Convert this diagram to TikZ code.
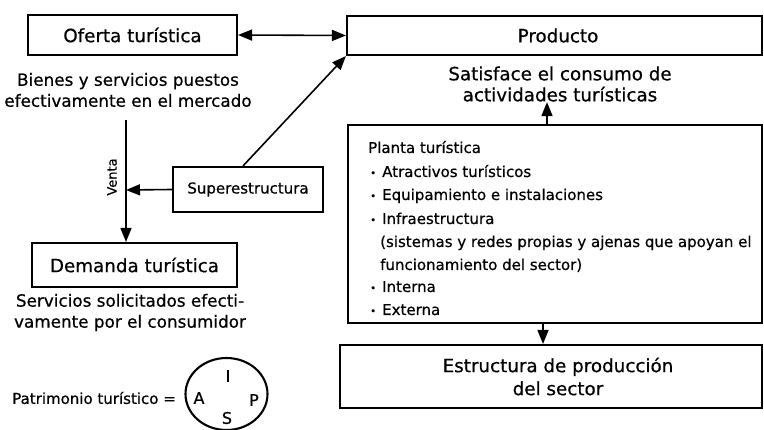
\documentclass[tikz,border=0pt]{standalone}
\usepackage{fontspec}
\setmainfont{DejaVu Sans}[FakeBold=0.6]
\usetikzlibrary{arrows.meta,shapes.geometric}
\begin{document}
\begin{tikzpicture}[x=1pt,y=-1pt,
  box/.style={draw, line width=2.1pt, inner sep=0pt, anchor=center},
  conn/.style={line width=1.6pt, -{Triangle[length=14pt,width=11pt]}},
  dconn/.style={line width=1.6pt, {Triangle[length=14pt,width=11pt]}-{Triangle[length=14pt,width=11pt]}},
  head/.style={font=\fontsize{18.3}{21}\selectfont},
  desc/.style={font=\fontsize{16.8}{21}\selectfont, align=center},
  mid/.style={font=\fontsize{15}{18}\selectfont},
  plant/.style={font=\fontsize{15}{18}\selectfont, inner sep=0pt, anchor=base west},
  letter/.style={font=\fontsize{16}{18}\selectfont, inner sep=0pt}]
\useasboundingbox (0,0) rectangle (764,430);

% boxes
\node[box, head, minimum width=209pt, minimum height=40pt] (oferta) at (132.5,35) {Oferta turística};
\node[box, head, minimum width=415pt, minimum height=39pt] (prod) at (554.5,35.5) {\hspace*{7pt}Producto};
\node[box, mid, minimum width=150pt, minimum height=45pt] (super) at (248,189.5) {Superestructura};
\node[box, head, minimum width=205pt, minimum height=44pt] (dem) at (134.5,265) {Demanda turística};
\node[box, minimum width=414pt, minimum height=198pt] (planta) at (555,224) {};
\node[box, head, align=center, font=\fontsize{18.3}{23}\selectfont, minimum width=422pt, minimum height=63pt] (estr) at (551,376.5) {\hspace*{14pt}Estructura de producción\\\hspace*{14pt}del sector};

% texts
\node[desc] (ofdesc) at (128,90) {Bienes y servicios puestos\\efectivamente en el mercado};
\node[desc] (dedesc) at (130,312.5) {Servicios solicitados efecti-\\vamente por el consumidor};
\node[head, align=center] (sat) at (560,84) {Satisface el consumo de\\actividades turísticas};
\node[font=\fontsize{13}{14}\selectfont, rotate=90, inner sep=0pt] (venta) at (112,177) {Venta};

% planta contents
\newcommand{\pbul}{\makebox[12pt][l]{\raisebox{0.5pt}{\fontsize{10}{10}\selectfont •}}}
\node[plant] (pl0) at (368,153) {Planta turística};
\node[plant] (pl1) at (370,177) {\pbul Atractivos turísticos};
\node[plant] (pl2) at (370,200) {\pbul Equipamiento e instalaciones};
\node[plant] (pl3) at (370,224) {\pbul Infraestructura};
\node[plant] (pl4) at (380,247) {(sistemas y redes propias y ajenas que apoyan el};
\node[plant] (pl5) at (380,270) {funcionamiento del sector)};
\node[plant] (pl6) at (370,292) {\pbul Interna};
\node[plant] (pl7) at (370,315) {\pbul Externa};

% patrimonio
\node[mid, anchor=east, inner sep=0pt] (patlabel) at (176,398) {Patrimonio turístico =};
\node[draw, ellipse, line width=2.1pt, minimum width=82pt, minimum height=72pt, inner sep=0pt] (pat) at (226.5,394) {};
\node[letter] (pI) at (228,376) {I};
\node[letter] (pA) at (199,398) {A};
\node[letter] (pP) at (254,400) {P};
\node[letter] (pS) at (227,418) {S};

% connectors
\coordinate (vtop) at (126,120);
\coordinate (vmid) at (126,190);
\draw[dconn] (oferta.east) -- (prod.west);
\draw[conn] ([xshift=-5pt]super.north) -- (prod.south west);
\draw[line width=1.6pt] (vtop) -- (vmid);
\draw[conn] (vmid) -- (dem.north -| vmid);
\draw[conn] (super.west) -- (vmid);
\draw[conn] ([xshift=-8pt]planta.north) -- ([xshift=-13pt,yshift=3pt]sat.south);
\draw[conn] ([xshift=-12pt]planta.south) -- ([xshift=-8pt]estr.north);
\end{tikzpicture}
\end{document}
